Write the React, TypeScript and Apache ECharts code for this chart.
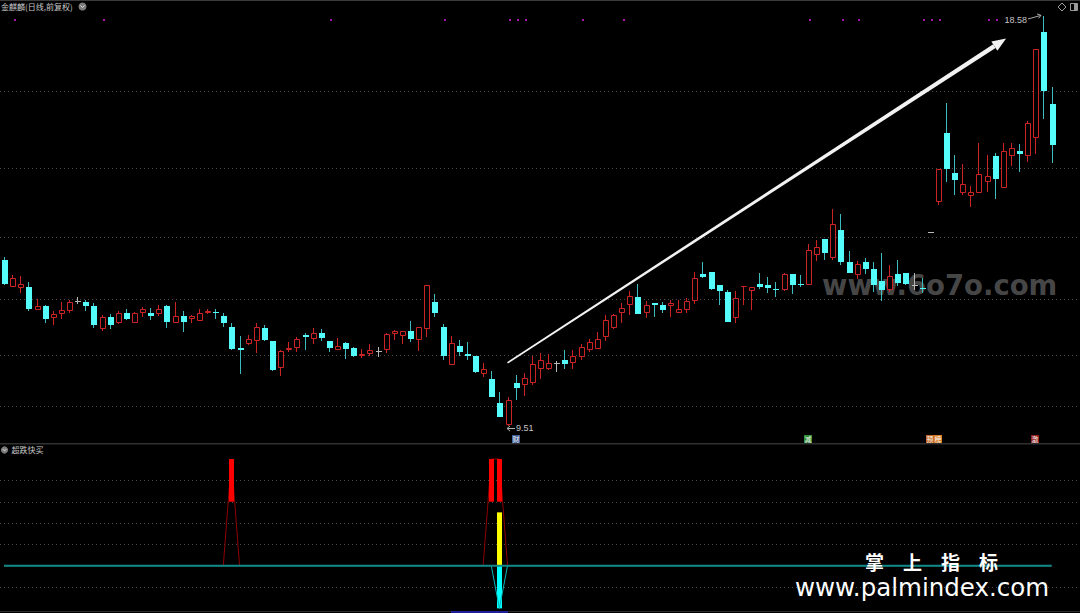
import React, { useEffect, useRef } from "react";
import * as echarts from "echarts";

// daily bars: [open, close, low, high]
const ohlc: number[][] = [
  [13.18, 12.64, 12.63, 13.25], [12.57, 12.78, 12.57, 12.84], [12.56, 12.64, 12.44, 12.82], [12.57, 12.08, 12.05, 12.69],
  [12.07, 12.16, 12.07, 12.31], [12.16, 11.87, 11.77, 12.17], [11.90, 11.98, 11.73, 12.05], [11.98, 12.07, 11.88, 12.25],
  [12.05, 12.25, 12.00, 12.29], [12.27, 12.27, 12.21, 12.35], [12.25, 12.16, 12.05, 12.30], [12.16, 11.74, 11.67, 12.22],
  [11.65, 11.91, 11.60, 11.96], [11.91, 11.74, 11.65, 11.98], [11.77, 12.01, 11.76, 12.04], [12.00, 11.87, 11.85, 12.08],
  [11.79, 12.01, 11.77, 12.03], [12.00, 12.08, 11.91, 12.14], [12.00, 11.94, 11.85, 12.12], [11.98, 12.08, 11.94, 12.17],
  [12.16, 11.80, 11.67, 12.19], [11.79, 11.93, 11.79, 12.25], [11.93, 11.80, 11.58, 12.04], [11.86, 11.93, 11.77, 11.95],
  [11.83, 12.00, 11.82, 12.08], [12.00, 12.05, 11.97, 12.08], [12.02, 12.00, 11.86, 12.08], [11.94, 11.79, 11.69, 12.00],
  [11.69, 11.20, 11.18, 11.77], [11.22, 11.18, 10.65, 11.49], [11.31, 11.42, 11.29, 11.52], [11.39, 11.69, 11.12, 11.79],
  [11.66, 11.40, 11.39, 11.73], [11.38, 10.74, 10.73, 11.38], [10.79, 11.16, 10.61, 11.18], [11.18, 11.23, 11.15, 11.37],
  [11.23, 11.42, 11.15, 11.47], [11.52, 11.47, 11.18, 11.55], [11.42, 11.55, 11.32, 11.66], [11.55, 11.44, 11.39, 11.64],
  [11.38, 11.23, 11.14, 11.38], [11.18, 11.27, 11.18, 11.44], [11.34, 11.21, 10.98, 11.36], [11.23, 11.04, 11.02, 11.24],
  [11.04, 11.09, 11.01, 11.20], [11.10, 11.18, 11.04, 11.32], [11.16, 11.16, 11.02, 11.24], [11.18, 11.53, 11.12, 11.57],
  [11.53, 11.61, 11.40, 11.63], [11.49, 11.60, 11.32, 11.60], [11.61, 11.43, 11.35, 11.83], [11.40, 11.69, 11.17, 11.69],
  [11.64, 12.62, 11.48, 12.62], [12.24, 12.01, 11.92, 12.42], [11.69, 11.05, 10.96, 11.75], [10.86, 11.33, 10.85, 11.49],
  [11.27, 11.14, 11.05, 11.40], [11.10, 11.05, 10.96, 11.35], [11.04, 10.70, 10.67, 11.04], [10.65, 10.76, 10.59, 10.89],
  [10.54, 10.15, 10.15, 10.72], [10.00, 9.71, 9.71, 10.26], [9.52, 10.08, 9.51, 10.15], [10.45, 10.34, 10.08, 10.62],
  [10.42, 10.56, 10.17, 10.68], [10.46, 10.87, 10.41, 11.04], [10.77, 10.96, 10.54, 11.11], [10.76, 10.89, 10.74, 11.09],
  [10.89, 10.89, 10.70, 10.93], [10.96, 10.87, 10.77, 11.18], [10.89, 11.04, 10.77, 11.18], [11.02, 11.24, 10.96, 11.32],
  [11.19, 11.35, 11.15, 11.42], [11.20, 11.42, 11.20, 11.59], [11.48, 11.84, 11.39, 11.96], [11.67, 11.95, 11.65, 11.98],
  [12.00, 12.11, 11.77, 12.23], [12.17, 12.38, 11.96, 12.48], [12.36, 11.97, 11.97, 12.64], [12.00, 12.18, 11.90, 12.26],
  [12.22, 12.19, 11.91, 12.22], [12.18, 12.07, 12.00, 12.25], [12.16, 12.22, 11.92, 12.30], [12.01, 12.08, 12.01, 12.30],
  [12.07, 12.27, 12.00, 12.34], [12.26, 12.78, 12.20, 12.92], [12.87, 12.80, 12.77, 13.13], [12.90, 12.54, 12.50, 12.90],
  [12.63, 12.49, 12.19, 12.63], [12.46, 11.80, 11.80, 12.51], [11.89, 12.33, 11.78, 12.48], [12.57, 12.60, 12.19, 12.60],
  [12.48, 12.57, 12.07, 12.57], [12.64, 12.58, 12.53, 12.89], [12.62, 12.56, 12.44, 12.79], [12.53, 12.50, 12.35, 12.69],
  [12.51, 12.87, 12.48, 12.88], [12.87, 12.62, 12.42, 12.87], [12.64, 12.62, 12.57, 12.84], [12.62, 13.40, 12.62, 13.52],
  [13.28, 13.46, 13.16, 13.62], [13.63, 13.34, 13.18, 13.63], [13.23, 13.97, 13.18, 14.30], [13.84, 13.12, 13.06, 14.19],
  [13.12, 12.89, 12.88, 13.37], [12.85, 13.09, 12.75, 13.16], [13.12, 12.97, 12.87, 13.21], [12.98, 12.62, 12.47, 13.12],
  [12.72, 12.50, 12.27, 13.34], [12.51, 12.81, 12.47, 13.06], [12.87, 12.67, 12.60, 13.18], [12.89, 12.64, 12.62, 12.89],
  [12.62, 12.62, 12.51, 12.89], [12.56, 12.53, 12.44, 12.77], [13.79, 13.79, 13.79, 13.79], [14.46, 15.18, 14.39, 15.18],
  [15.98, 15.19, 14.89, 16.65], [15.09, 14.94, 14.61, 15.49], [14.66, 14.86, 14.61, 15.30], [14.58, 14.68, 14.35, 14.81],
  [14.65, 15.08, 14.65, 15.77], [14.89, 15.03, 14.69, 15.49], [15.48, 14.97, 14.52, 15.54], [14.77, 15.59, 14.77, 15.77],
  [15.48, 15.65, 15.25, 15.77], [15.59, 15.52, 15.13, 15.74], [15.48, 16.20, 15.34, 16.26], [15.87, 17.84, 15.52, 17.84],
  [18.22, 16.92, 16.29, 18.58], [16.62, 15.71, 15.33, 17.00],
];

// price gridlines of the main panel
const gridPrices = [16.91, 15.2, 13.69, 12.31, 11.07, 9.95];
// indicator gridlines
const subGridValues = [4, 3, 2, 1, -1];
// top purple event dots (bar index)
const dotIdx = [1, 12, 40, 54, 62, 63, 64, 71, 76, 99, 103, 105, 113, 114, 115, 121, 122];
// info-mine markers
const markerIdx = [63, 99, 114, 115, 127];
const markerText = ["财", "减", "预", "榜", "激"];
// drawn trend arrow: [fromIndex, fromPrice, toIndex, toPrice]
const trendArrow = [[62, 10.9, 123.4, 18.075]];

// indicator 超跌快买
const redStick = [[28, 3, 5], [60, 3, 5], [61, 3, 5]];
const yellowStick = [[61, 0, 2.5]];
const cyanStick = [[61, 0, -2]];
const redLinePeaks = [[28, 5], [60, 5], [61, 5]];
const cyanLinePeaks = [[61, -2]];

const markerColors = ["#3b5d96", "#2e8b2e", "#c4621e", "#d87a22", "#8e1a1a"];
const RED = "#cc2424";
const CYAN = "#54fcfc";
const CYAN_WICK = "#3cbcbc";
const GRAY = "#b8b8b8";

const YMIN = 9.126;
const YMAX = 18.927;

function buildOption(): any {
  const candleData = ohlc.map((d, i) => [i, d[0], d[1], d[2], d[3]]);
  let lowIdx = 0;
  let highIdx = 0;
  ohlc.forEach((d, i) => {
    if (d[2] < ohlc[lowIdx][2]) lowIdx = i;
    if (d[3] > ohlc[highIdx][3]) highIdx = i;
  });
  const peakLine = (peaks: number[][]) =>
    ohlc.map((_, i) => {
      const p = peaks.find((q) => q[0] === i);
      return [i, p ? p[1] : 0];
    });
  const zeroLine = ohlc.map((_, i) => [i, 0]);

  const gridLineItem = (params: any, api: any) => {
    const y = Math.round(api.coord([0, api.value(1)])[1]) + 0.5;
    const cs = params.coordSys;
    return {
      type: "line",
      shape: { x1: cs.x, y1: y, x2: cs.x + cs.width, y2: y },
      style: { stroke: "#4a4a4a", lineWidth: 1, lineDash: [1, 3] },
      silent: true,
    };
  };

  const candleItem = (params: any, api: any) => {
    const i = api.value(0);
    const o = api.value(1);
    const c = api.value(2);
    const l = api.value(3);
    const h = api.value(4);
    const pO = api.coord([i, o]);
    const cx = Math.round(pO[0]);
    const yC = api.coord([i, c])[1];
    const yL = Math.round(api.coord([i, l])[1]);
    const yH = Math.round(api.coord([i, h])[1]);
    const top = Math.round(Math.min(pO[1], yC));
    const bot = Math.round(Math.max(pO[1], yC));
    const wx = cx + 0.5;
    if (c > o) {
      return {
        type: "group",
        children: [
          { type: "line", shape: { x1: wx, y1: yH, x2: wx, y2: top }, style: { stroke: RED, lineWidth: 1 } },
          { type: "line", shape: { x1: wx, y1: bot, x2: wx, y2: yL }, style: { stroke: RED, lineWidth: 1 } },
          {
            type: "rect",
            shape: { x: cx - 1.5, y: top + 0.5, width: 5, height: Math.max(bot - top - 1, 0) },
            style: { fill: "#000", stroke: RED, lineWidth: 1 },
          },
        ],
      };
    }
    if (c < o) {
      return {
        type: "group",
        children: [
          { type: "line", shape: { x1: wx, y1: yH, x2: wx, y2: yL }, style: { stroke: CYAN_WICK, lineWidth: 1 } },
          { type: "rect", shape: { x: cx - 2, y: top, width: 6, height: Math.max(bot - top, 1) }, style: { fill: CYAN } },
        ],
      };
    }
    return {
      type: "group",
      children: [
        { type: "line", shape: { x1: wx, y1: yH, x2: wx, y2: Math.max(yL, yH + 1) }, style: { stroke: GRAY, lineWidth: 1 } },
        { type: "line", shape: { x1: cx - 2, y1: top + 0.5, x2: cx + 4, y2: top + 0.5 }, style: { stroke: GRAY, lineWidth: 1 } },
      ],
    };
  };

  const dotItem = (params: any, api: any) => {
    const x = Math.round(api.coord([api.value(0), YMAX])[0] + 2.4);
    return {
      type: "rect",
      shape: { x: x - 1, y: params.coordSys.y + 19, width: 2, height: 2 },
      style: { fill: "#a812a8" },
    };
  };

  const markerItem = (params: any, api: any) => {
    const x = Math.round(api.coord([api.value(0), YMIN])[0]);
    const cs = params.coordSys;
    const y = cs.y + cs.height - 8;
    return {
      type: "group",
      children: [
        { type: "rect", shape: { x: x - 4, y, width: 8, height: 8 }, style: { fill: markerColors[params.dataIndex] } },
        {
          type: "text",
          style: {
            text: markerText[params.dataIndex],
            x: x,
            y: y + 4,
            fill: "#f4f4f4",
            fontSize: 7,
            fontFamily: "Noto Sans CJK SC",
            align: "center",
            verticalAlign: "middle",
            textAlign: "center",
            textVerticalAlign: "middle",
          },
        },
      ],
    };
  };

  const arrowItem = (params: any, api: any) => {
    const p0 = api.coord([api.value(0), api.value(1)]);
    const p1 = api.coord([api.value(2), api.value(3)]);
    const dx = p1[0] - p0[0];
    const dy = p1[1] - p0[1];
    const len = Math.hypot(dx, dy);
    const ux = dx / len;
    const uy = dy / len;
    const nx = -uy;
    const ny = ux;
    const headLen = 14;
    const headW = 5.5;
    const bx = p1[0] - ux * headLen;
    const by = p1[1] - uy * headLen;
    const w0 = 0.8;
    const w1 = 2.2;
    return {
      type: "group",
      children: [
        {
          type: "polygon",
          shape: {
            points: [
              [p0[0] + nx * w0, p0[1] + ny * w0],
              [bx + nx * w1, by + ny * w1],
              [bx - nx * w1, by - ny * w1],
              [p0[0] - nx * w0, p0[1] - ny * w0],
            ],
          },
          style: { fill: "#f2f2f2" },
        },
        {
          type: "polygon",
          shape: { points: [[bx + nx * headW, by + ny * headW], [p1[0], p1[1]], [bx - nx * headW, by - ny * headW]] },
          style: { fill: "#f2f2f2" },
        },
      ],
    };
  };

  const extremeItem = (params: any, api: any) => {
    const idx = api.value(0);
    const price = api.value(1);
    const p = api.coord([idx, price]);
    const cx = Math.round(p[0]);
    const label = price.toFixed(2);
    if (params.dataIndex === 0) {
      const ay = Math.round(p[1] + 2.8) + 0.5;
      return {
        type: "group",
        children: [
          { type: "line", shape: { x1: cx - 1, y1: ay, x2: cx + 7, y2: ay }, style: { stroke: "#b0b0b0", lineWidth: 1 } },
          { type: "polyline", shape: { points: [[cx + 2, ay - 2.5], [cx - 1, ay], [cx + 2, ay + 2.5]] }, style: { stroke: "#b0b0b0", lineWidth: 1, fill: "none" } },
          {
            type: "text",
            style: {
              text: label,
              x: cx + 8,
              y: p[1] + 2.8,
              fill: "#c4c4c4",
              fontSize: 9,
              fontFamily: "Liberation Sans",
              align: "left",
              verticalAlign: "middle",
              textAlign: "left",
              textVerticalAlign: "middle",
            },
          },
        ],
      };
    }
    const sx = cx - 15;
    const sy = p[1] + 3.3;
    const ex = cx - 2;
    const ey = p[1] - 0.3;
    return {
      type: "group",
      children: [
        {
          type: "text",
          style: {
            text: label,
            x: cx - 16,
            y: p[1] + 4,
            fill: "#c4c4c4",
            fontSize: 9,
            fontFamily: "Liberation Sans",
            align: "right",
            verticalAlign: "middle",
            textAlign: "right",
            textVerticalAlign: "middle",
          },
        },
        { type: "line", shape: { x1: sx, y1: sy, x2: ex, y2: ey }, style: { stroke: "#a8a8a8", lineWidth: 1 } },
        { type: "polyline", shape: { points: [[ex - 4, ey - 1.5], [ex, ey], [ex - 2.5, ey + 3]] }, style: { stroke: "#a8a8a8", lineWidth: 1, fill: "none" } },
      ],
    };
  };

  const stickItem = (color: string, width: number) => (params: any, api: any) => {
    const i = api.value(0);
    const a = api.coord([i, api.value(1)]);
    const b = api.coord([i, api.value(2)]);
    const cx = Math.round(a[0]);
    const top = Math.min(a[1], b[1]);
    const bot = Math.max(a[1], b[1]);
    return {
      type: "rect",
      shape: { x: cx - Math.floor(width / 2), y: top, width, height: bot - top },
      style: { fill: color },
    };
  };

  const textStyle = (text: string, x: number, y: number, size: number, fill: string, family: string, weight = "normal") => ({
    text,
    x,
    y,
    fill,
    fontSize: size,
    fontFamily: family,
    fontWeight: weight,
    align: "left",
    verticalAlign: "middle",
    textAlign: "left",
    textVerticalAlign: "middle",
  });

  return {
    animation: false,
    backgroundColor: "#000",
    grid: [
      { left: -1, top: 0, width: 1081, height: 443 },
      { left: -1, top: 444, width: 1081, height: 167 },
    ],
    xAxis: [
      { type: "value", gridIndex: 0, min: -0.5, max: 132.5, show: false },
      { type: "value", gridIndex: 1, min: -0.5, max: 132.5, show: false },
    ],
    yAxis: [
      { type: "value", gridIndex: 0, min: YMIN, max: YMAX, show: false },
      { type: "value", gridIndex: 1, min: -2.124, max: 5.705, show: false },
    ],
    graphic: [
      { type: "rect", shape: { x: 0, y: 0, width: 1080, height: 1 }, style: { fill: "#3a3a3a" }, z: 10 },
      { type: "rect", shape: { x: 0, y: 443, width: 1080, height: 1.5 }, style: { fill: "#303030" }, z: 10 },
      { type: "rect", shape: { x: 0, y: 611, width: 1080, height: 1 }, style: { fill: "#2c2c2c" }, z: 10 },
      { type: "rect", shape: { x: 451, y: 611, width: 57, height: 2 }, style: { fill: "#1e1e9a" }, z: 11 },
      { type: "text", style: textStyle("金麒麟(日线,前复权)", 1, 6.5, 8, "#c8c8c8", "Noto Sans CJK SC"), z: 10 },
      { type: "circle", shape: { cx: 82.5, cy: 6.5, r: 4 }, style: { fill: "#7c7c7c" }, z: 10 },
      { type: "polyline", shape: { points: [[80.5, 5.5], [82.5, 7.5], [84.5, 5.5]] }, style: { stroke: "#e0e0e0", lineWidth: 1, fill: "none" }, z: 11 },
      { type: "polygon", shape: { points: [[1062, 3], [1066, 7], [1062, 11], [1058, 7]] }, style: { stroke: "#9a9a9a", fill: "none", lineWidth: 1 }, z: 10 },
      { type: "rect", shape: { x: 1070.5, y: 3.5, width: 7, height: 7 }, style: { stroke: "#9a9a9a", fill: "none", lineWidth: 1 }, z: 10 },
      { type: "rect", shape: { x: 1074, y: 4, width: 3, height: 6 }, style: { fill: "#9a9a9a" }, z: 10 },
      { type: "circle", shape: { cx: 4.5, cy: 450, r: 3.6 }, style: { fill: "#7c7c7c" }, z: 10 },
      { type: "polyline", shape: { points: [[2.8, 449.2], [4.5, 450.9], [6.2, 449.2]] }, style: { stroke: "#e0e0e0", lineWidth: 1, fill: "none" }, z: 11 },
      { type: "text", style: textStyle("超跌快买", 11.5, 449.5, 8, "#c8c8c8", "Noto Sans CJK SC"), z: 10 },
      { type: "text", style: textStyle("www.6o7o.com", 822, 285, 27.5, "rgba(118,118,118,0.62)", "DejaVu Sans", "bold"), z: 0 },
      { type: "text", style: textStyle("掌　上　指　标", 865, 561, 19, "#ffffff", "Noto Sans CJK SC", "bold"), z: 100 },
      { type: "text", style: textStyle("www.palmindex.com", 795, 587.5, 24.5, "#ffffff", "DejaVu Sans"), z: 100 },
    ],
    series: [
      { type: "custom", name: "priceGrid", xAxisIndex: 0, yAxisIndex: 0, data: gridPrices.map((p) => [0, p]), renderItem: gridLineItem, silent: true, z: 1 },
      { type: "custom", name: "K", xAxisIndex: 0, yAxisIndex: 0, data: candleData, encode: { x: 0, y: [1, 2, 3, 4] }, renderItem: candleItem, z: 3 },
      { type: "custom", name: "dots", xAxisIndex: 0, yAxisIndex: 0, data: dotIdx.map((i) => [i, YMAX]), renderItem: dotItem, z: 3 },
      { type: "custom", name: "markers", xAxisIndex: 0, yAxisIndex: 0, data: markerIdx.map((i) => [i, YMIN]), renderItem: markerItem, z: 4 },
      { type: "custom", name: "arrow", xAxisIndex: 0, yAxisIndex: 0, data: trendArrow, renderItem: arrowItem, z: 5 },
      {
        type: "custom",
        name: "extremes",
        xAxisIndex: 0,
        yAxisIndex: 0,
        data: [[lowIdx, ohlc[lowIdx][2]], [highIdx, ohlc[highIdx][3]]],
        renderItem: extremeItem,
        z: 5,
      },
      { type: "custom", name: "subGrid", xAxisIndex: 1, yAxisIndex: 1, data: subGridValues.map((v) => [0, v]), renderItem: gridLineItem, silent: true, z: 1 },
      {
        type: "line",
        name: "redLine",
        xAxisIndex: 1,
        yAxisIndex: 1,
        data: peakLine(redLinePeaks),
        showSymbol: false,
        lineStyle: { color: "#8e0000", width: 1 },
        z: 2,
      },
      { type: "custom", name: "redStick", xAxisIndex: 1, yAxisIndex: 1, data: redStick, renderItem: stickItem("#ff0000", 5), z: 3 },
      { type: "custom", name: "yellowStick", xAxisIndex: 1, yAxisIndex: 1, data: yellowStick, renderItem: stickItem("#ffff00", 5), z: 3 },
      { type: "custom", name: "cyanStick", xAxisIndex: 1, yAxisIndex: 1, data: cyanStick, renderItem: stickItem("#00ffff", 5), z: 3 },
      {
        type: "line",
        name: "cyanLine",
        xAxisIndex: 1,
        yAxisIndex: 1,
        data: peakLine(cyanLinePeaks),
        showSymbol: false,
        lineStyle: { color: "#00b8b8", width: 1 },
        z: 4,
      },
      {
        type: "line",
        name: "zero",
        xAxisIndex: 1,
        yAxisIndex: 1,
        data: zeroLine,
        showSymbol: false,
        lineStyle: { color: "#108888", width: 2 },
        z: 5,
      },
    ],
  };
}

export default function App() {
  const ref = useRef<HTMLDivElement>(null);
  useEffect(() => {
    document.body.style.margin = "0";
    document.body.style.background = "#000";
    const chart = echarts.init(ref.current as HTMLDivElement, null, { renderer: "svg" });
    chart.setOption(buildOption());
    return () => chart.dispose();
  }, []);
  return (
    <div
      ref={ref}
      style={{ position: "fixed", left: 0, top: 0, width: 1080, height: 613, background: "#000" }}
    />
  );
}
